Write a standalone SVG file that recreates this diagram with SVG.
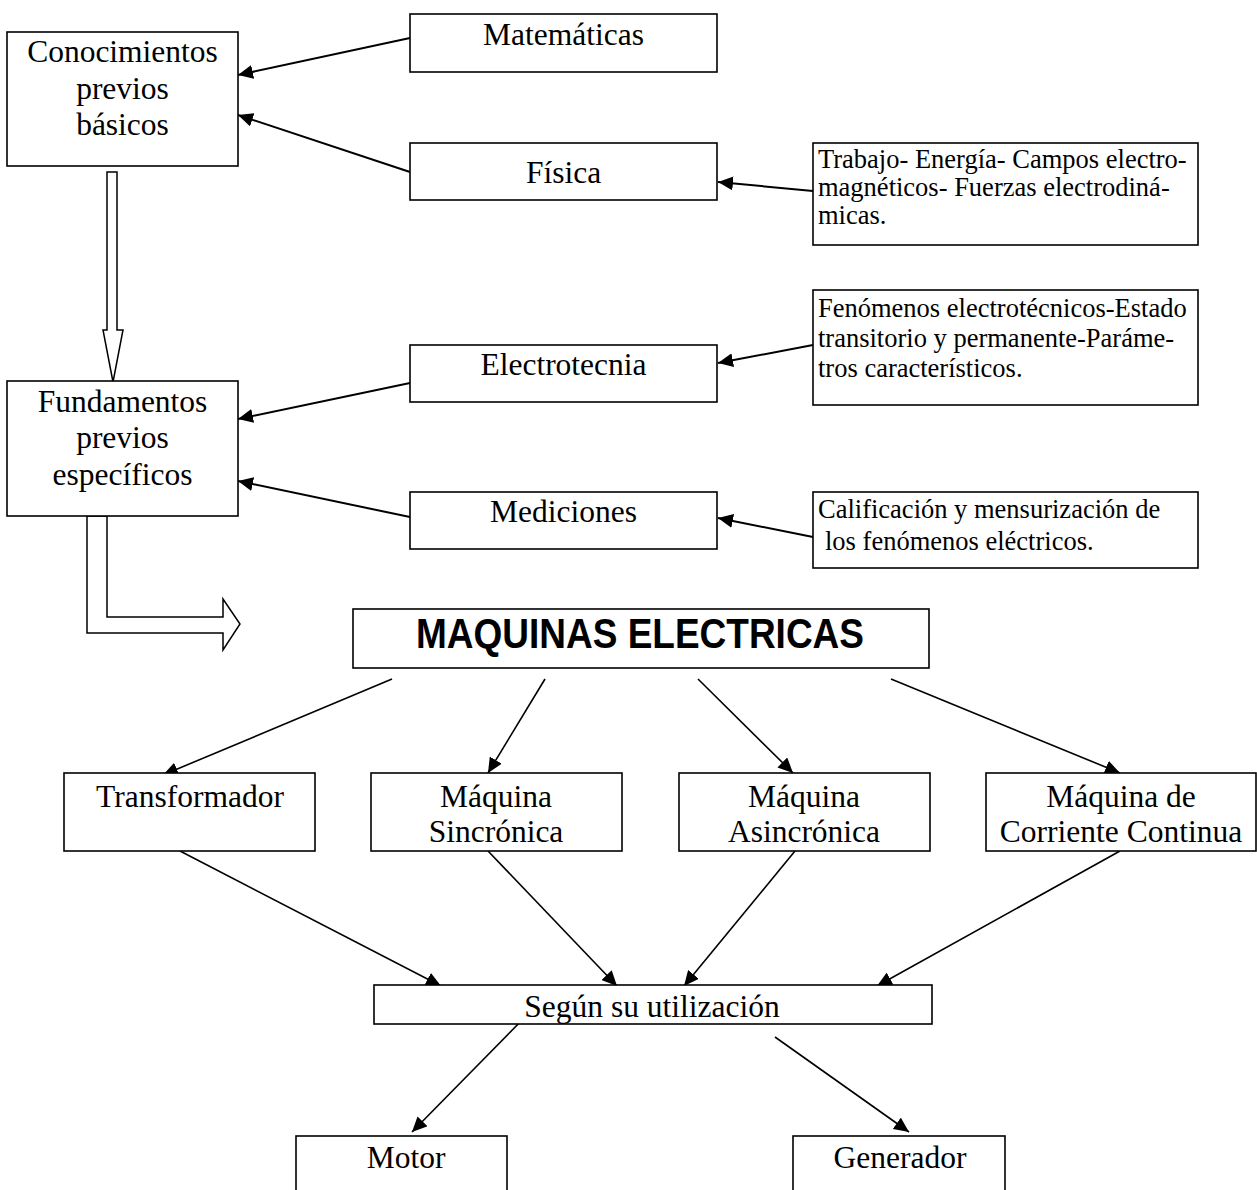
<svg xmlns="http://www.w3.org/2000/svg" width="1257" height="1190" viewBox="0 0 1257 1190">
<style>
.box{fill:#fff;stroke:#000;stroke-width:1.6}
.t{font-family:"Liberation Serif","Times New Roman",serif;font-size:31.5px;text-anchor:middle;fill:#000}
.s{font-family:"Liberation Serif","Times New Roman",serif;font-size:26.5px;fill:#000}
.b{font-family:"Liberation Sans",Arial,sans-serif;font-size:42px;font-weight:bold;fill:#000}
.a{stroke:#000;stroke-width:2;fill:none;marker-end:url(#ah)}
.a2{stroke:#000;stroke-width:1.6;fill:none;marker-end:url(#ah)}
.hol{fill:#fff;stroke:#000;stroke-width:1.5}
</style>
<defs>
<marker id="ah" markerUnits="userSpaceOnUse" markerWidth="16" markerHeight="14" refX="15" refY="7" orient="auto">
<path d="M0,0 L15,7 L0,14 z" fill="#000"/>
</marker>
</defs>
<rect width="1257" height="1190" fill="#fff"/>
<g id="connectors">
<line class="a" x1="410" y1="38" x2="238" y2="75"/>
<line class="a" x1="410" y1="172" x2="238" y2="115"/>
<line class="a" x1="813" y1="191" x2="718" y2="182"/>
<line class="a" x1="813" y1="345" x2="718" y2="363"/>
<line class="a" x1="410" y1="383" x2="238" y2="419"/>
<line class="a" x1="410" y1="517" x2="238" y2="481"/>
<line class="a" x1="813" y1="537" x2="718" y2="518"/>
<polygon class="hol" points="107,172 117,172 117,330 123,330 113,382 103,330 107,330"/>
<polygon class="hol" points="87,516 107,516 107,617 223,617 223,599 240,624 223,650 223,633 87,633"/>
<line class="a2" x1="392" y1="679" x2="163" y2="775"/>
<line class="a2" x1="545" y1="679" x2="488" y2="773"/>
<line class="a2" x1="698" y1="679" x2="793" y2="773"/>
<line class="a2" x1="891" y1="679" x2="1120" y2="773"/>
<line class="a2" x1="180" y1="851" x2="441" y2="986"/>
<line class="a2" x1="488" y1="851" x2="617" y2="986"/>
<line class="a2" x1="795" y1="851" x2="684" y2="986"/>
<line class="a2" x1="1120" y1="851" x2="877" y2="986"/>
<line class="a2" x1="526" y1="1016" x2="412" y2="1132"/>
<line class="a2" x1="775" y1="1037" x2="909" y2="1132"/>
</g>
<g id="conocimientos">
<rect class="box" x="7" y="32" width="231" height="134"/>
<text class="t" x="122.5" y="62">Conocimientos</text>
<text class="t" x="122.5" y="98.5">previos</text>
<text class="t" x="122.5" y="135">básicos</text>
</g>
<g id="matematicas">
<rect class="box" x="410" y="14" width="307" height="58"/>
<text class="t" x="563.5" y="45">Matemáticas</text>
</g>
<g id="fisica">
<rect class="box" x="410" y="143" width="307" height="57"/>
<text class="t" x="563.5" y="183">Física</text>
</g>
<g id="trabajo">
<rect class="box" x="813" y="143" width="385" height="102"/>
<text class="s" x="818" y="168">Trabajo- Energía- Campos electro-</text>
<text class="s" x="818" y="196">magnéticos- Fuerzas electrodiná-</text>
<text class="s" x="818" y="224">micas.</text>
</g>
<g id="fenomenos">
<rect class="box" x="813" y="290" width="385" height="115"/>
<text class="s" x="818" y="317">Fenómenos electrotécnicos-Estado</text>
<text class="s" x="818" y="347">transitorio y permanente-Paráme-</text>
<text class="s" x="818" y="377">tros característicos.</text>
</g>
<g id="electrotecnia">
<rect class="box" x="410" y="345" width="307" height="57"/>
<text class="t" x="563.5" y="375">Electrotecnia</text>
</g>
<g id="fundamentos">
<rect class="box" x="7" y="381" width="231" height="135"/>
<text class="t" x="122.5" y="412">Fundamentos</text>
<text class="t" x="122.5" y="448">previos</text>
<text class="t" x="122.5" y="485">específicos</text>
</g>
<g id="mediciones">
<rect class="box" x="410" y="492" width="307" height="57"/>
<text class="t" x="563.5" y="522">Mediciones</text>
</g>
<g id="calificacion">
<rect class="box" x="813" y="492" width="385" height="76"/>
<text class="s" x="818" y="518">Calificación y mensurización de</text>
<text class="s" x="825" y="550">los fenómenos eléctricos.</text>
</g>
<g id="maquinas">
<rect class="box" x="353" y="609" width="576" height="59"/>
<text class="b" x="416" y="648" textLength="448" lengthAdjust="spacingAndGlyphs">MAQUINAS ELECTRICAS</text>
</g>
<g id="transformador">
<rect class="box" x="64" y="773" width="251" height="78"/>
<text class="t" x="190" y="807">Transformador</text>
</g>
<g id="sincronica">
<rect class="box" x="371" y="773" width="251" height="78"/>
<text class="t" x="496" y="807">Máquina</text>
<text class="t" x="496" y="842">Sincrónica</text>
</g>
<g id="asincronica">
<rect class="box" x="679" y="773" width="251" height="78"/>
<text class="t" x="804" y="807">Máquina</text>
<text class="t" x="804" y="842">Asincrónica</text>
</g>
<g id="corriente-continua">
<rect class="box" x="986" y="773" width="270" height="78"/>
<text class="t" x="1121" y="807">Máquina de</text>
<text class="t" x="1121" y="842">Corriente Continua</text>
</g>
<g id="segun">
<rect class="box" x="374" y="985" width="558" height="39"/>
<text class="t" x="652" y="1017">Según su utilización</text>
</g>
<g id="motor">
<rect class="box" x="296" y="1136" width="211" height="70"/>
<text class="t" x="406" y="1168">Motor</text>
</g>
<g id="generador">
<rect class="box" x="793" y="1136" width="212" height="70"/>
<text class="t" x="900" y="1168">Generador</text>
</g>
</svg>
